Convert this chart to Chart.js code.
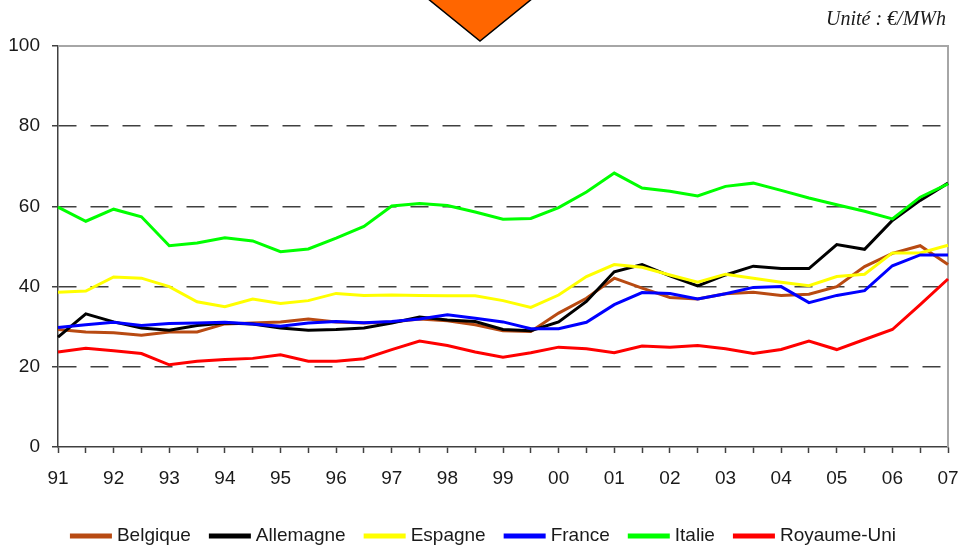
<!DOCTYPE html>
<html>
<head>
<meta charset="utf-8">
<script src="https://cdn.jsdelivr.net/npm/chart.js@4.4.1/dist/chart.umd.min.js"></script>
<style>
  html, body { margin: 0; padding: 0; background: #ffffff; }
  canvas { display: block; }
</style>
</head>
<body>
<canvas id="chart" width="961" height="548"></canvas>
<script>
// Year tick labels (one point per half-year between them)
const years = ['91','92','93','94','95','96','97','98','99','00','01','02','03','04','05','06','07'];

// Prices in €/MWh, semi-annual readings 1991 -> 2007
const belgique   = [29.3,28.7,28.5,27.9,28.7,28.7,30.7,30.9,31.2,31.9,31.2,30.9,31.2,31.9,31.5,30.5,29.0,28.8,33.4,37.1,42.1,39.6,37.3,36.9,38.2,38.6,37.8,38.1,40.0,45.0,48.3,50.2,45.5];
const allemagne  = [27.4,33.2,31.2,29.7,29.1,30.3,30.9,30.7,29.7,29.1,29.3,29.7,30.9,32.4,31.7,31.3,29.3,29.0,31.2,36.3,43.7,45.5,42.7,40.2,42.9,45.1,44.5,44.5,50.5,49.3,56.5,61.5,65.8];
const espagne    = [38.6,38.9,42.4,42.1,40.0,36.2,35.0,36.9,35.8,36.5,38.3,37.8,37.9,37.8,37.7,37.7,36.5,34.8,37.9,42.5,45.5,44.8,42.9,41.1,43.1,42.1,41.1,40.2,42.5,43.1,48.4,48.4,50.3];
const france     = [29.8,30.5,31.1,30.3,30.8,30.9,31.1,30.7,30.1,30.9,31.3,31.0,31.3,31.9,33.0,32.1,31.2,29.5,29.5,31.1,35.5,38.5,38.3,36.9,38.2,39.8,40.0,36.0,37.8,39.0,45.2,47.9,47.9];
const italie     = [59.8,56.3,59.3,57.4,50.2,50.9,52.2,51.4,48.7,49.4,52.1,55.0,60.1,60.7,60.2,58.6,56.8,57.0,59.7,63.6,68.3,64.6,63.8,62.6,65.0,65.8,64.0,62.1,60.4,58.8,56.9,62.3,65.6];
const royaumeUni = [23.7,24.6,24.0,23.3,20.5,21.4,21.8,22.1,23.0,21.4,21.4,22.0,24.3,26.4,25.3,23.7,22.4,23.5,24.9,24.5,23.5,25.2,24.9,25.3,24.5,23.3,24.3,26.4,24.3,26.8,29.3,35.5,41.9];

const seriesNames  = ['Belgique', 'Allemagne', 'Espagne', 'France', 'Italie', 'Royaume-Uni'];
const seriesValues = [belgique, allemagne, espagne, france, italie, royaumeUni];
const seriesColors = ['#B84A12', '#000000', '#FFFF00', '#0000FF', '#00FF00', '#FF0000'];

const unitLabel = 'Unité : €/MWh';

// One category per half-year; only whole years carry a label
const categories = years.flatMap((y, i) => (i < years.length - 1 ? [y, ''] : [y]));

const FONT = '"Liberation Sans", Arial, Helvetica, sans-serif';
const AXIS = '#404040';
const TEXT = '#1a1a1a';

// Light grey frame along the top and right of the plot
const framePlugin = {
  id: 'frame',
  beforeDatasetsDraw(chart) {
    const { ctx, chartArea: a } = chart;
    ctx.save();
    ctx.strokeStyle = '#a6a6a6';
    ctx.lineWidth = 2;
    ctx.beginPath();
    ctx.moveTo(a.left, a.top);
    ctx.lineTo(a.right, a.top);
    ctx.lineTo(a.right, a.bottom);
    ctx.stroke();
    ctx.restore();
  }
};

// Header marker, unit caption and the line legend
const decorPlugin = {
  id: 'decor',
  afterDraw(chart) {
    const { ctx, chartArea } = chart;
    ctx.save();

    // orange pointer at the top centre
    ctx.beginPath();
    ctx.moveTo(427, -2);
    ctx.lineTo(533, -2);
    ctx.lineTo(480, 41);
    ctx.closePath();
    ctx.fillStyle = '#FF6600';
    ctx.fill();
    ctx.strokeStyle = '#000000';
    ctx.lineWidth = 1.5;
    ctx.stroke();

    // unit caption, right-aligned with the plot frame
    ctx.font = 'italic 20px "Liberation Serif", "Times New Roman", serif';
    ctx.fillStyle = TEXT;
    ctx.textAlign = 'right';
    ctx.textBaseline = 'alphabetic';
    ctx.fillText(unitLabel, chartArea.right - 2, 25);

    // legend
    ctx.font = '19px ' + FONT;
    ctx.textAlign = 'left';
    ctx.textBaseline = 'middle';
    const sw = 42, sh = 5, gapText = 5, gapItem = 18;
    const items = chart.data.datasets.map(d => ({
      label: d.label, color: d.borderColor, w: ctx.measureText(d.label).width
    }));
    const total = items.reduce((s, it) => s + sw + gapText + it.w, 0) + gapItem * (items.length - 1);
    let x = 483 - total / 2;
    const y = 536;
    items.forEach(it => {
      ctx.fillStyle = it.color;
      ctx.fillRect(x, y - sh / 2, sw, sh);
      x += sw + gapText;
      ctx.fillStyle = TEXT;
      ctx.fillText(it.label, x, y);
      x += it.w + gapItem;
    });
    ctx.restore();
  }
};

const datasets = seriesNames.map((name, i) => ({
  label: name,
  data: seriesValues[i],
  borderColor: seriesColors[i],
  backgroundColor: seriesColors[i],
  borderWidth: 3,
  pointRadius: 0,
  tension: 0,
  fill: false,
  order: seriesNames.length - i
}));

new Chart(document.getElementById('chart'), {
  type: 'line',
  data: { labels: categories, datasets },
  options: {
    responsive: false,
    animation: false,
    layout: { padding: { left: 0, right: 0, top: 46, bottom: 60 } },
    plugins: {
      legend: { display: false },
      tooltip: { enabled: false }
    },
    scales: {
      x: {
        type: 'category',
        offset: false,
        grid: {
          drawOnChartArea: false,
          drawTicks: true,
          tickLength: 6,
          tickColor: AXIS,
          tickWidth: 1.5
        },
        border: { color: AXIS, width: 1.5 },
        ticks: {
          autoSkip: false,
          maxRotation: 0,
          minRotation: 0,
          padding: 14,
          color: TEXT,
          font: { family: FONT, size: 19 }
        },
        afterFit(scale) {
          scale.height = 41;
          scale.paddingLeft = 0;
          scale.paddingRight = 13;
        }
      },
      y: {
        min: 0,
        max: 100,
        ticks: {
          stepSize: 20,
          padding: 12,
          color: TEXT,
          font: { family: FONT, size: 19 }
        },
        grid: {
          color: c => (c.tick && (c.tick.value === 0 || c.tick.value === 100)) ? 'rgba(0,0,0,0)' : AXIS,
          lineWidth: 1.5,
          drawTicks: true,
          tickLength: 6,
          tickColor: AXIS,
          tickWidth: 1.5
        },
        border: { color: AXIS, width: 1.5, dash: [18, 14] },
        afterFit(scale) { scale.width = 58; }
      }
    }
  },
  plugins: [framePlugin, decorPlugin]
});
</script>
</body>
</html>
